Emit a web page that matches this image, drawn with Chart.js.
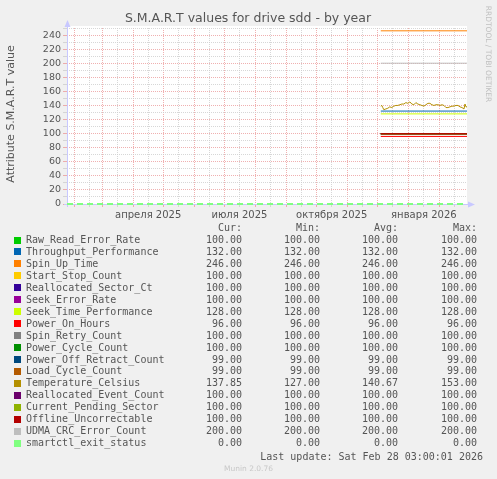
<!DOCTYPE html>
<html>
<head>
<meta charset="utf-8">
<script src="https://cdn.jsdelivr.net/npm/chart.js@4.4.0/dist/chart.umd.min.js"></script>
<style>
  html, body { margin: 0; padding: 0; background: #f0f0f0; }
  #wrap { position: relative; width: 497px; height: 479px; overflow: hidden; }
  #chart { position: absolute; left: 0; top: 0; }
  .lg { position: absolute; font: 10px "DejaVu Sans Mono", monospace; color: #555; white-space: pre; line-height: 12px; }
  .sw { position: absolute; width: 7px; height: 7px; }
  .r { text-align: right; }
  #munin { position: absolute; left: 0; width: 497px; top: 464px; text-align: center; font: 7.5px "DejaVu Sans", sans-serif; color: #c8c8c8; }
</style>
</head>
<body>
<div id="wrap">
  <canvas id="chart" width="497" height="479"></canvas>
  <div id="legend"></div>
  <div class="lg r" style="right:14px; top:451px;">Last update: Sat Feb 28 03:00:01 2026</div>
  <div id="munin">Munin 2.0.76</div>
</div>
<script>
// series names, colours and the summary values shown in the legend
const names = ['Raw_Read_Error_Rate', 'Throughput_Performance', 'Spin_Up_Time', 'Start_Stop_Count',
  'Reallocated_Sector_Ct', 'Seek_Error_Rate', 'Seek_Time_Performance', 'Power_On_Hours',
  'Spin_Retry_Count', 'Power_Cycle_Count', 'Power_Off_Retract_Count', 'Load_Cycle_Count',
  'Temperature_Celsius', 'Reallocated_Event_Count', 'Current_Pending_Sector',
  'Offline_Uncorrectable', 'UDMA_CRC_Error_Count', 'smartctl_exit_status'];
const colors = ['#00CC00', '#0066B3', '#FF8000', '#FFCC00', '#330099', '#990099', '#CCFF00', '#FF0000',
  '#808080', '#008F00', '#00487D', '#B35A00', '#B38F00', '#6B006B', '#8FB300', '#B30000', '#BEBEBE', '#80FF80'];
const curVals = [100, 132, 246, 100, 100, 100, 128, 96, 100, 100, 99, 99, 137.85, 100, 100, 100, 200, 0];
const minVals = [100, 132, 246, 100, 100, 100, 128, 96, 100, 100, 99, 99, 127, 100, 100, 100, 200, 0];
const avgVals = [100, 132, 246, 100, 100, 100, 128, 96, 100, 100, 99, 99, 140.67, 100, 100, 100, 200, 0];
const maxVals = [100, 132, 246, 100, 100, 100, 128, 96, 100, 100, 99, 99, 153, 100, 100, 100, 200, 0];

// temperature readings (days since 25 Jan 2025)
const tempDays = [313, 314, 315, 316, 318, 320, 322, 324, 326, 328, 330, 332, 334, 336, 338, 340, 342, 344,
  346, 348, 350, 352, 354, 356, 358, 360, 362, 364, 366, 368, 370, 372, 374, 376, 378, 380, 382, 384,
  386, 388, 390, 392, 394, 395, 396, 397, 398, 399];
const tempVals = [139, 140, 137, 134, 135, 136, 138, 137, 139, 140, 140, 141, 142, 142, 144, 143, 145, 142,
  141, 144, 142, 141, 140, 139, 141, 143, 143, 141, 140, 141, 141, 140, 141, 140, 137, 137, 138, 139,
  139, 140, 140, 138, 137, 136, 135, 142, 138, 138];

const dataStart = 313, dayEnd = 399;
const monthLabels = { '2025-3': 'апреля 2025', '2025-6': 'июля 2025', '2025-9': 'октября 2025', '2026-0': 'января 2026' };

const t0 = Date.UTC(2025, 0, 25);
const dayOf = (y, m, d) => Math.round((Date.UTC(y, m, d) - t0) / 86400000);

// month grid: red line on the 1st, grey on the 16th
const xTicks = [];
for (let y = 2025, m = 1; ; m++) {
  if (m > 11) { m = 0; y++; }
  xTicks.push({ value: dayOf(y, m, 1), big: true, label: '' });
  xTicks.push({ value: dayOf(y, m, 16), big: false, label: monthLabels[y + '-' + m] || '' });
  if (y === 2026 && m === 1) break;
}

const datasets = names.map((n, i) => {
  let pts;
  if (i === 12) pts = tempDays.map((d, k) => ({ x: d, y: tempVals[k] }));
  else if (i === 17) pts = [{ x: 0, y: curVals[i] }, { x: dayEnd, y: curVals[i] }];
  else pts = [{ x: dataStart, y: curVals[i] }, { x: dayEnd, y: curVals[i] }];
  return {
    label: n, data: pts, borderColor: colors[i], backgroundColor: colors[i],
    borderWidth: i === 17 ? 2 : 1, borderDash: i === 17 ? [6, 4] : [],
    pointRadius: 0, tension: 0, order: -i, clip: 4
  };
});

const decor = {
  id: 'decor',
  beforeDraw(chart) {
    const { ctx, chartArea: a } = chart;
    ctx.save();
    ctx.fillStyle = '#ffffff';
    ctx.fillRect(a.left, a.top - 2, a.right - a.left, a.bottom - a.top + 2);
    ctx.restore();
  },
  beforeDatasetsDraw(chart) {
    const { ctx, chartArea: a } = chart;
    ctx.save();
    ctx.strokeStyle = '#c8c8ff';
    ctx.fillStyle = '#c8c8ff';
    ctx.lineWidth = 1;
    ctx.beginPath();
    ctx.moveTo(a.left + 0.5, a.bottom + 3); ctx.lineTo(a.left + 0.5, a.top - 4);
    ctx.moveTo(a.left - 3, a.bottom + 0.5); ctx.lineTo(a.right + 4, a.bottom + 0.5);
    ctx.stroke();
    ctx.beginPath();
    ctx.moveTo(a.left + 0.5, a.top - 8); ctx.lineTo(a.left - 2.5, a.top - 1); ctx.lineTo(a.left + 3.5, a.top - 1);
    ctx.closePath(); ctx.fill();
    ctx.beginPath();
    ctx.moveTo(a.right + 8, a.bottom + 0.5); ctx.lineTo(a.right + 1, a.bottom - 2.5); ctx.lineTo(a.right + 1, a.bottom + 3.5);
    ctx.closePath(); ctx.fill();
    ctx.restore();
  },
  afterDraw(chart) {
    const { ctx } = chart;
    ctx.save();
    ctx.fillStyle = '#555';
    ctx.textAlign = 'center';
    ctx.textBaseline = 'middle';
    ctx.font = '12.5px "DejaVu Sans"';
    ctx.fillText('S.M.A.R.T values for drive sdd - by year', 248, 19);
    ctx.translate(11, 114);
    ctx.rotate(-Math.PI / 2);
    ctx.font = '11px "DejaVu Sans"';
    ctx.fillText('Attribute S.M.A.R.T value', 0, 0);
    ctx.restore();

    ctx.save();
    ctx.translate(488, 54);
    ctx.rotate(Math.PI / 2);
    ctx.fillStyle = '#c0c0c0';
    ctx.font = '7.5px "DejaVu Sans"';
    ctx.textAlign = 'center';
    ctx.textBaseline = 'middle';
    ctx.fillText('RRDTOOL / TOBI OETIKER', 0, 0);
    ctx.restore();
  }
};

new Chart(document.getElementById('chart'), {
  type: 'line',
  data: { datasets },
  options: {
    responsive: false,
    animation: false,
    devicePixelRatio: 1,
    layout: { padding: { top: 28, right: 30, left: 0, bottom: 255 } },
    plugins: { legend: { display: false }, tooltip: { enabled: false } },
    scales: {
      x: {
        type: 'linear', min: 0, max: dayEnd,
        afterBuildTicks(s) { s.ticks = xTicks.map(t => ({ value: t.value, big: t.big, label: t.label })); },
        afterFit(s) { s.height = 20; },
        ticks: {
          autoSkip: false, maxRotation: 0, padding: 2,
          color: '#555', font: { family: 'DejaVu Sans', size: 10 },
          callback(v, i) { return xTicks[i] ? xTicks[i].label : ''; }
        },
        grid: {
          color: c => (c.tick && c.tick.big ? 'rgba(235,150,150,0.75)' : 'rgba(205,205,205,0.8)'),
          lineWidth: 1, tickLength: 3
        },
        border: { display: false, dash: [1, 1] }
      },
      y: {
        min: 0, max: 250,
        afterBuildTicks(s) { const t = []; for (let v = 0; v <= 250; v += 10) t.push({ value: v }); s.ticks = t; },
        afterFit(s) { s.width = 67; },
        ticks: {
          autoSkip: false, padding: 2,
          color: '#555', font: { family: 'DejaVu Sans', size: 9.5 },
          callback: v => (v % 20 === 0 && v <= 240 ? String(v) : '')
        },
        grid: {
          color: c => (c.tick && c.tick.value % 20 === 0 ? 'rgba(235,150,150,0.75)' : 'rgba(205,205,205,0.8)'),
          lineWidth: 1, tickLength: 4
        },
        border: { display: false, dash: [1, 1] }
      }
    }
  },
  plugins: [decor]
});

// text legend below the plot
const lg = document.getElementById('legend');
const fmt = v => v.toFixed(2);
const add = (txt, cls, style) => { const d = document.createElement('div'); d.className = cls; d.style.cssText = style; d.textContent = txt; lg.appendChild(d); };
const colRight = [255, 177, 99, 20];
['Cur:', 'Min:', 'Avg:', 'Max:'].forEach((h, k) => add(h, 'lg r', 'right:' + colRight[k] + 'px; top:222px;'));
names.forEach((n, i) => {
  const top = 234 + i * 11.95;
  const sw = document.createElement('div');
  sw.className = 'sw';
  sw.style.cssText = 'left:14px; top:' + (top + 2.5) + 'px; background:' + colors[i] + ';';
  lg.appendChild(sw);
  add(n, 'lg', 'left:26px; top:' + top + 'px;');
  [curVals, minVals, avgVals, maxVals].forEach((arr, k) => add(fmt(arr[i]), 'lg r', 'right:' + colRight[k] + 'px; top:' + top + 'px;'));
});
</script>
</body>
</html>
